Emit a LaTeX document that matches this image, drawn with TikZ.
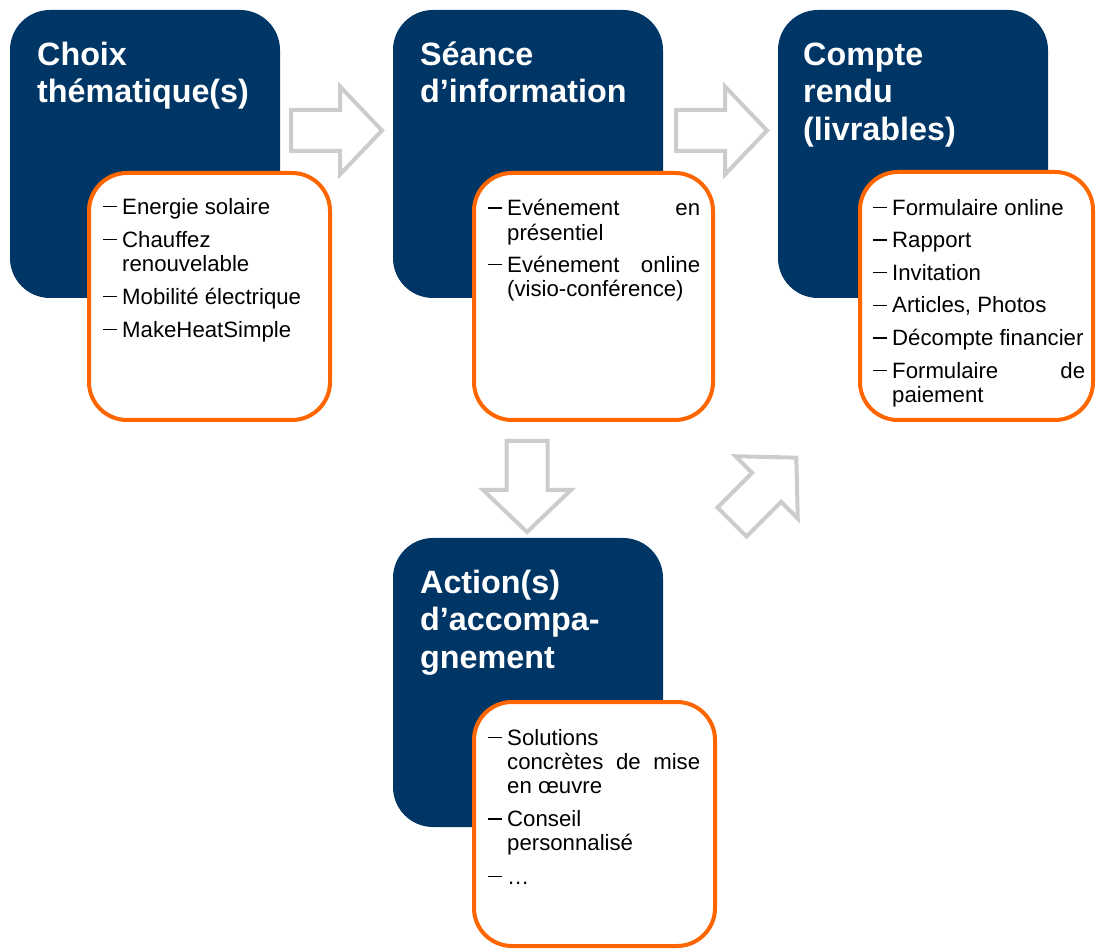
\documentclass[tikz,border=0pt]{standalone}
\usepackage{fontspec}
\setmainfont{Liberation Sans}
\definecolor{navy}{RGB}{0,54,102}
\definecolor{orng}{RGB}{255,102,0}
\definecolor{arrgray}{RGB}{204,204,204}
\tikzset{
  bluebox/.style={fill=navy, draw=none, rounded corners=40pt, minimum width=270pt, minimum height=288pt, inner sep=0pt, outer sep=0pt},
  orangebox/.style={fill=white, draw=orng, line width=4pt, rounded corners=38pt, inner sep=0pt},
  titletext/.style={anchor=north west, inner sep=0pt, text=white, text width=280pt, align=left, font=\fontsize{32.3}{37.5}\selectfont\bfseries},
  itemtext/.style={anchor=north west, inner sep=0pt, text=black, text width=212pt, align=justify, font=\fontsize{22.2}{24}\selectfont},
  blockarrow/.style={draw=arrgray, fill=white, line width=4pt, line join=miter},
}
\newcommand\itm[1]{\par\noindent\hangindent=19pt\hangafter=1\makebox[19pt][l]{\rule[7pt]{14pt}{1.4pt}}#1\par}
\newcommand\psk[1]{\setlength{\parskip}{#1}}
\newcommand\prep{\hyphenpenalty=10000\exhyphenpenalty=10000\tolerance=10000\hbadness=10000}
\newcommand\blockarrowat[2]{%
  \begin{scope}[shift={#1}, rotate=#2]
    \draw[blockarrow] (0,-20.5) -- (49,-20.5) -- (49,-44) -- (91,0) -- (49,44) -- (49,20.5) -- (0,20.5) -- cycle;
  \end{scope}}
\begin{document}
\begin{tikzpicture}[x=1pt, y=-1pt]
\useasboundingbox (0,0) rectangle (1096,949);

% blue boxes
\node[bluebox] (b1) at (145,154) {};
\node[bluebox] (b2) at (528,154) {};
\node[bluebox] (b3) at (913,154) {};
\node[bluebox, minimum height=289pt] (b4) at (528,682.5) {};

% orange boxes
\node[orangebox, minimum width=241pt, minimum height=247pt] (o1) at (209.5,296.5) {};
\node[orangebox, minimum width=239pt, minimum height=247pt] (o2) at (593.5,296.5) {};
\node[orangebox, minimum width=233pt, minimum height=248pt] (o3) at (976.5,296) {};
\node[orangebox, minimum width=241pt, minimum height=244pt] (o4) at (594.5,824) {};

% titles
\node[titletext] (t1) at (37,35) {\rule{0pt}{30pt}Choix\\th\'ematique(s)};
\node[titletext] (t2) at (420,35) {\rule{0pt}{30pt}S\'eance\\d’information};
\node[titletext] (t3) at (803,35) {\rule{0pt}{30pt}Compte\\rendu\\(livrables)};
\node[titletext] (t4) at (420,563) {\rule{0pt}{30pt}Action(s)\\d’accompa-\\gnement};

% lists
\node[itemtext] (l1) at (103,190) {\prep
  \itm{\rule{0pt}{20pt}Energie solaire}\psk{9pt}
  \itm{Chauffez\newline renouvelable}
  \itm{Mobilit\'e \'electrique}
  \itm{MakeHeatSimple}};
\node[itemtext] (l2) at (488,191) {\prep\fontsize{22.2}{24.5}\selectfont
  \itm{\rule{0pt}{20pt}Ev\'enement en\linebreak pr\'esentiel}\psk{7.5pt}
  \itm{Ev\'enement online\linebreak (visio-conf\'erence)}};
\node[itemtext] (l3) at (873,191) {\prep
  \itm{\rule{0pt}{20pt}Formulaire online}\psk{8.6pt}
  \itm{Rapport}
  \itm{Invitation}
  \itm{Articles, Photos}
  \itm{D\'ecompte financier}
  \itm{Formulaire de\linebreak paiement}};
\node[itemtext] (l4) at (488,721) {\prep\fontsize{22.2}{24}\selectfont
  \itm{\rule{0pt}{20pt}Solutions\newline concr\`etes de mise\linebreak en œuvre}\psk{9.5pt}
  \itm{Conseil\newline personnalis\'e}
  \itm{…}};

% block arrows
\blockarrowat{(291,130.5)}{0}
\blockarrowat{(676,130.5)}{0}
\blockarrowat{(527,441)}{-90}
\blockarrowat{(732,522)}{45}
\end{tikzpicture}
\end{document}
